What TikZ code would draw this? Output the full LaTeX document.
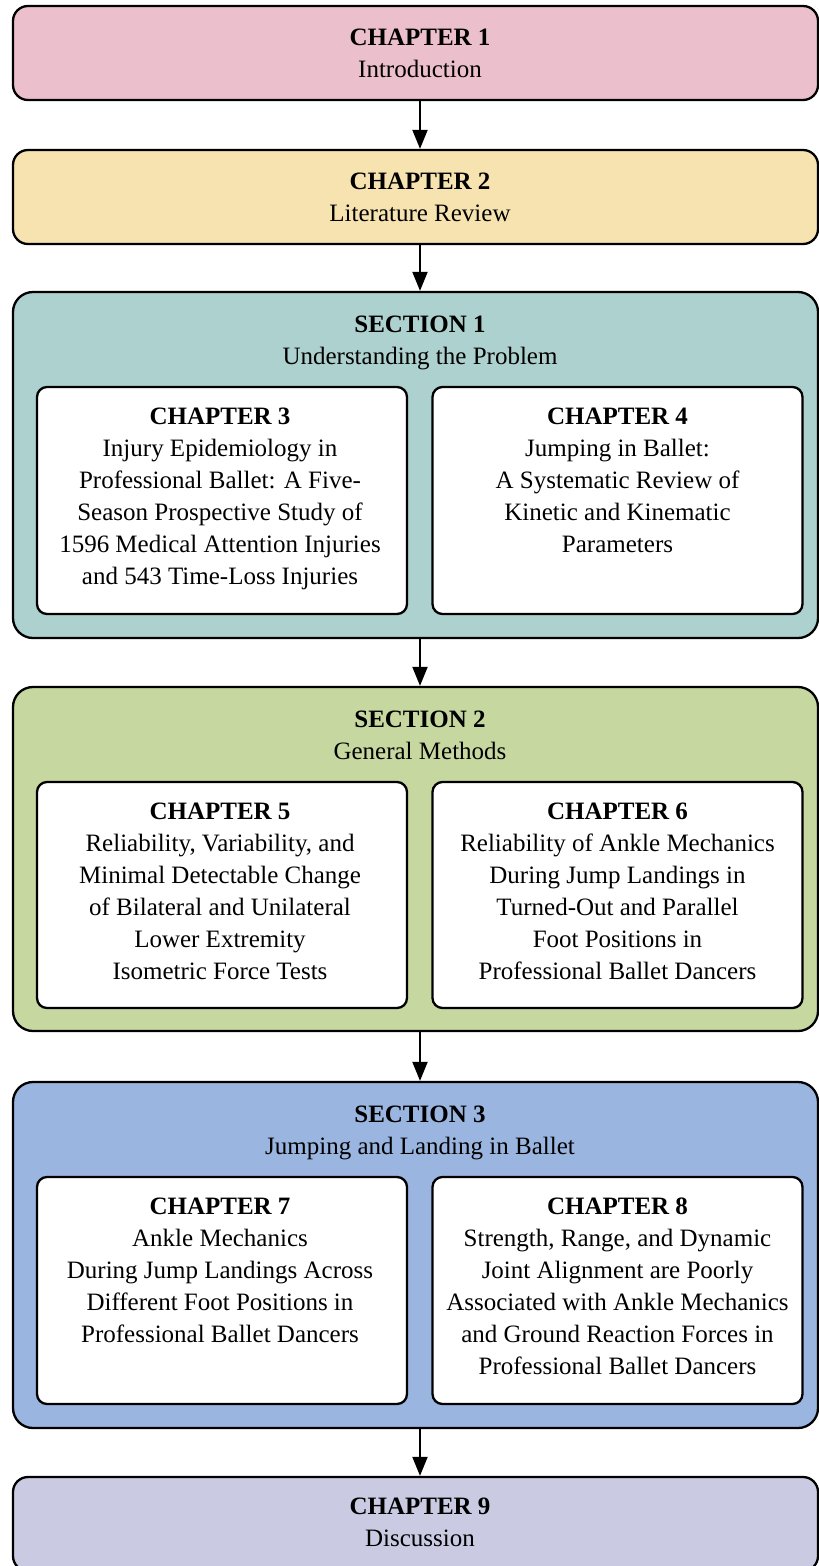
\documentclass[tikz,border=0pt]{standalone}
\usepackage{fontspec}
\setmainfont{Liberation Serif}
\usetikzlibrary{arrows.meta,calc}

\definecolor{introfill}{HTML}{EBBFCB}
\definecolor{litfill}{HTML}{F7E3AF}
\definecolor{secAfill}{HTML}{ADD1CE}
\definecolor{secBfill}{HTML}{C6D7A0}
\definecolor{secCfill}{HTML}{9AB5DF}
\definecolor{discfill}{HTML}{CACBE2}

\begin{document}
\begin{tikzpicture}[x=1pt,y=-1pt,
  outerbox/.style={draw=black, line width=2.3pt, rounded corners=15pt,
    inner sep=0pt, minimum width=805pt},
  sectionbox/.style={outerbox, rounded corners=20pt},
  innerbox/.style={draw=black, line width=2.3pt, rounded corners=10pt,
    fill=white, inner sep=0pt, minimum width=370pt},
  txt/.style={align=center, inner sep=0pt, anchor=north,
    font=\fontsize{25}{32}\selectfont},
  arr/.style={line width=2pt, -{Triangle[width=15pt,length=19pt]}}
]
\useasboundingbox (0,0) rectangle (819,1566);
\clip (0,0) rectangle (819,1566);

% vertical axis shared by the text column and the connectors
\coordinate (axis) at (420,0);

% ---- chapters 1 and 2 ----
\node[outerbox, fill=introfill, minimum height=94pt] (ch1) at (415.5,53) {};
\node[txt] (ch1t) at ($(ch1.north -| axis)+(0,23.7)$) {\textbf{CHAPTER 1}\\Introduction};

\node[outerbox, fill=litfill, minimum height=94pt] (ch2) at (415.5,197) {};
\node[txt] (ch2t) at ($(ch2.north -| axis)+(0,23.7)$) {\textbf{CHAPTER 2}\\Literature Review};

% ---- section 1 ----
\node[sectionbox, fill=secAfill, minimum height=346pt] (sec1) at (415.5,465) {};
\node[txt] (sec1t) at ($(sec1.north -| axis)+(0,24.7)$) {\textbf{SECTION 1}\\Understanding the Problem};
\node[innerbox, minimum height=227pt] (ch3) at (222,500.5) {};
\node[innerbox, minimum height=227pt] (ch4) at (617.5,500.5) {};
\node[txt] (ch3t) at ($(ch3.north)+(-2,21.7)$) {\textbf{CHAPTER 3}\\Injury Epidemiology in\\Professional Ballet: A Five-\\Season Prospective Study of\\1596 Medical Attention Injuries\\and 543 Time-Loss Injuries};
\node[txt] (ch4t) at ($(ch4.north)+(0,21.7)$) {\textbf{CHAPTER 4}\\Jumping in Ballet:\\A Systematic Review of\\Kinetic and Kinematic\\Parameters};

% ---- section 2 ----
\node[sectionbox, fill=secBfill, minimum height=344pt] (sec2) at (415.5,859) {};
\node[txt] (sec2t) at ($(sec2.north -| axis)+(0,24.7)$) {\textbf{SECTION 2}\\General Methods};
\node[innerbox, minimum height=226pt] (ch5) at (222,895) {};
\node[innerbox, minimum height=226pt] (ch6) at (617.5,895) {};
\node[txt] (ch5t) at ($(ch5.north)+(-2,21.7)$) {\textbf{CHAPTER 5}\\Reliability, Variability, and\\Minimal Detectable Change\\of Bilateral and Unilateral\\Lower Extremity\\Isometric Force Tests};
\node[txt] (ch6t) at ($(ch6.north)+(0,21.7)$) {\textbf{CHAPTER 6}\\Reliability of Ankle Mechanics\\During Jump Landings in\\Turned-Out and Parallel\\Foot Positions in\\Professional Ballet Dancers};

% ---- section 3 ----
\node[sectionbox, fill=secCfill, minimum height=346pt] (sec3) at (415.5,1255) {};
\node[txt] (sec3t) at ($(sec3.north -| axis)+(0,24.7)$) {\textbf{SECTION 3}\\Jumping and Landing in Ballet};
\node[innerbox, minimum height=227pt] (ch7) at (222,1290.5) {};
\node[innerbox, minimum height=227pt] (ch8) at (617.5,1290.5) {};
\node[txt] (ch7t) at ($(ch7.north)+(-2,21.7)$) {\textbf{CHAPTER 7}\\Ankle Mechanics\\During Jump Landings Across\\Different Foot Positions in\\Professional Ballet Dancers};
\node[txt] (ch8t) at ($(ch8.north)+(0,21.7)$) {\textbf{CHAPTER 8}\\Strength, Range, and Dynamic\\Joint Alignment are Poorly\\Associated with Ankle Mechanics\\and Ground Reaction Forces in\\Professional Ballet Dancers};

% ---- chapter 9 ----
\node[outerbox, fill=discfill, minimum height=94pt] (ch9) at (415.5,1524) {};
\node[txt] (ch9t) at ($(ch9.north -| axis)+(0,21.7)$) {\textbf{CHAPTER 9}\\Discussion};

% ---- flow connectors ----
\draw[arr] (ch1.south -| axis) -- (ch2.north -| axis);
\draw[arr] (ch2.south -| axis) -- (sec1.north -| axis);
\draw[arr] (sec1.south -| axis) -- (sec2.north -| axis);
\draw[arr] (sec2.south -| axis) -- (sec3.north -| axis);
\draw[arr] (sec3.south -| axis) -- (ch9.north -| axis);
\end{tikzpicture}
\end{document}
